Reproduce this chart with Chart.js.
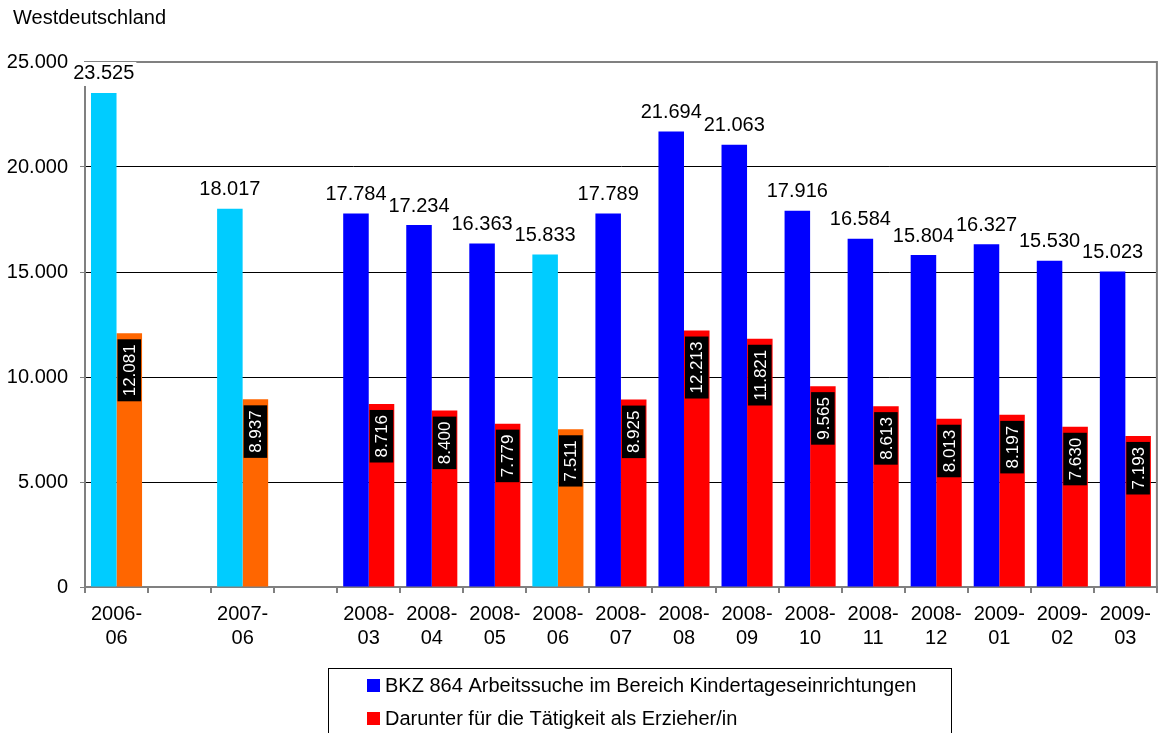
<!DOCTYPE html>
<html>
<head>
<meta charset="utf-8">
<title>Westdeutschland</title>
<script src="https://cdn.jsdelivr.net/npm/chart.js@4"></script>
<style>
    html, body { margin: 0; padding: 0; background: #fff; }
    #wrap { width: 1160px; height: 733px; }
</style>
</head>
<body>
<div id="wrap"><canvas id="chart" width="1160" height="733"></canvas></div>
<script>
// Values (empty slots are the gaps between years)
const categories = [
    ['2006-', '06'], '', ['2007-', '06'], '',
    ['2008-', '03'], ['2008-', '04'], ['2008-', '05'], ['2008-', '06'],
    ['2008-', '07'], ['2008-', '08'], ['2008-', '09'], ['2008-', '10'],
    ['2008-', '11'], ['2008-', '12'], ['2009-', '01'], ['2009-', '02'], ['2009-', '03']
];
const totalValues = [23525, null, 18017, null, 17784, 17234, 16363, 15833, 17789, 21694, 21063, 17916, 16584, 15804, 16327, 15530, 15023];
const erzieherValues = [12081, null, 8937, null, 8716, 8400, 7779, 7511, 8925, 12213, 11821, 9565, 8613, 8013, 8197, 7630, 7193];
const juneSlots = [0, 2, 7];
const yTicks = [0, 5000, 10000, 15000, 20000, 25000];

const seriesNames = [
    'BKZ 864 Arbeitssuche im Bereich Kindertageseinrichtungen',
    'Darunter für die Tätigkeit als Erzieher/in'
];
const titleText = 'Westdeutschland';

const FONT = "'Liberation Sans', Arial, sans-serif";
const fmt = v => String(v).replace(/\B(?=(\d{3})+(?!\d))/g, '.');

const blueColors = totalValues.map((v, i) => juneSlots.includes(i) ? '#00CCFF' : '#0000FF');
const redColors = erzieherValues.map((v, i) => juneSlots.includes(i) ? '#FF6600' : '#FF0000');

// Title, plot frame, value labels and the boxed legend
const decorations = {
    id: 'decorations',
    afterDatasetsDraw(chart) {
        const ctx = chart.ctx;
        const area = chart.chartArea;
        ctx.save();

        // grey frame: top and right side of the plot
        ctx.strokeStyle = '#808080';
        ctx.lineWidth = 2;
        ctx.beginPath();
        ctx.moveTo(area.left, area.top);
        ctx.lineTo(area.right, area.top);
        ctx.lineTo(area.right, area.bottom);
        ctx.stroke();

        // totals above the blue bars
        ctx.font = '20px ' + FONT;
        ctx.textAlign = 'center';
        ctx.textBaseline = 'middle';
        chart.getDatasetMeta(0).data.forEach((bar, i) => {
            const v = totalValues[i];
            if (v == null) return;
            const txt = fmt(v);
            const w = ctx.measureText(txt).width;
            const y = bar.y - 19;
            ctx.fillStyle = '#fff';
            ctx.fillRect(bar.x - w / 2 - 2, y - 12, w + 4, 24);
            ctx.fillStyle = '#000';
            ctx.fillText(txt, bar.x, y);
        });

        // black boxes with rotated white text inside the red bars
        ctx.font = '17px ' + FONT;
        chart.getDatasetMeta(1).data.forEach((bar, i) => {
            const v = erzieherValues[i];
            if (v == null) return;
            const txt = fmt(v);
            const w = ctx.measureText(txt).width;
            const boxH = w + 10;
            const boxW = bar.width - 2;
            const top = bar.y + 6;
            ctx.fillStyle = '#000';
            ctx.fillRect(bar.x - boxW / 2, top, boxW, boxH);
            ctx.save();
            ctx.translate(bar.x, top + boxH / 2);
            ctx.rotate(-Math.PI / 2);
            ctx.fillStyle = '#fff';
            ctx.fillText(txt, 0, 1);
            ctx.restore();
        });

        // title
        ctx.font = '20px ' + FONT;
        ctx.textAlign = 'left';
        ctx.fillStyle = '#000';
        ctx.fillText(titleText, 13, 18);

        // legend box
        ctx.strokeStyle = '#000';
        ctx.lineWidth = 1;
        ctx.strokeRect(328.5, 668.5, 623, 80);
        const legendColors = ['#0000FF', '#FF0000'];
        seriesNames.forEach((name, k) => {
            const cy = 685.5 + k * 33;
            ctx.fillStyle = legendColors[k];
            ctx.fillRect(367, cy - 6.5, 13, 13);
            ctx.fillStyle = '#000';
            ctx.fillText(name, 385, cy + 1);
        });
        ctx.restore();
    }
};

Chart.defaults.color = '#000';
Chart.defaults.font.family = FONT;
Chart.defaults.font.size = 20;

new Chart(document.getElementById('chart').getContext('2d'), {
    type: 'bar',
    data: {
        labels: categories,
        datasets: [
            {
                label: seriesNames[0],
                data: totalValues,
                backgroundColor: blueColors,
                categoryPercentage: 0.81,
                barPercentage: 1
            },
            {
                label: seriesNames[1],
                data: erzieherValues,
                backgroundColor: redColors,
                categoryPercentage: 0.81,
                barPercentage: 1
            }
        ]
    },
    options: {
        responsive: false,
        animation: false,
        layout: { padding: { top: 62, right: 2, left: 0, bottom: 0 } },
        plugins: {
            legend: { display: false },
            tooltip: { enabled: false }
        },
        scales: {
            x: {
                offset: true,
                grid: {
                    offset: true,
                    drawOnChartArea: false,
                    drawTicks: true,
                    tickLength: 6,
                    color: '#808080',
                    lineWidth: 2
                },
                border: { color: '#808080', width: 2 },
                ticks: {
                    autoSkip: false,
                    maxRotation: 0,
                    padding: 9,
                    color: '#000',
                    font: { size: 20, lineHeight: 1.2 }
                },
                afterFit: s => { s.height = 146; }
            },
            y: {
                min: 0,
                max: 25000,
                afterBuildTicks: s => { s.ticks = yTicks.map(v => ({ value: v })); },
                grid: {
                    color: '#000',
                    lineWidth: 1,
                    tickLength: 5,
                    tickColor: '#808080'
                },
                border: { color: '#808080', width: 2 },
                ticks: {
                    padding: 12,
                    color: '#000',
                    font: { size: 20 },
                    callback: v => fmt(v)
                },
                afterFit: s => { s.width = 85; }
            }
        }
    },
    plugins: [decorations]
});
</script>
</body>
</html>
